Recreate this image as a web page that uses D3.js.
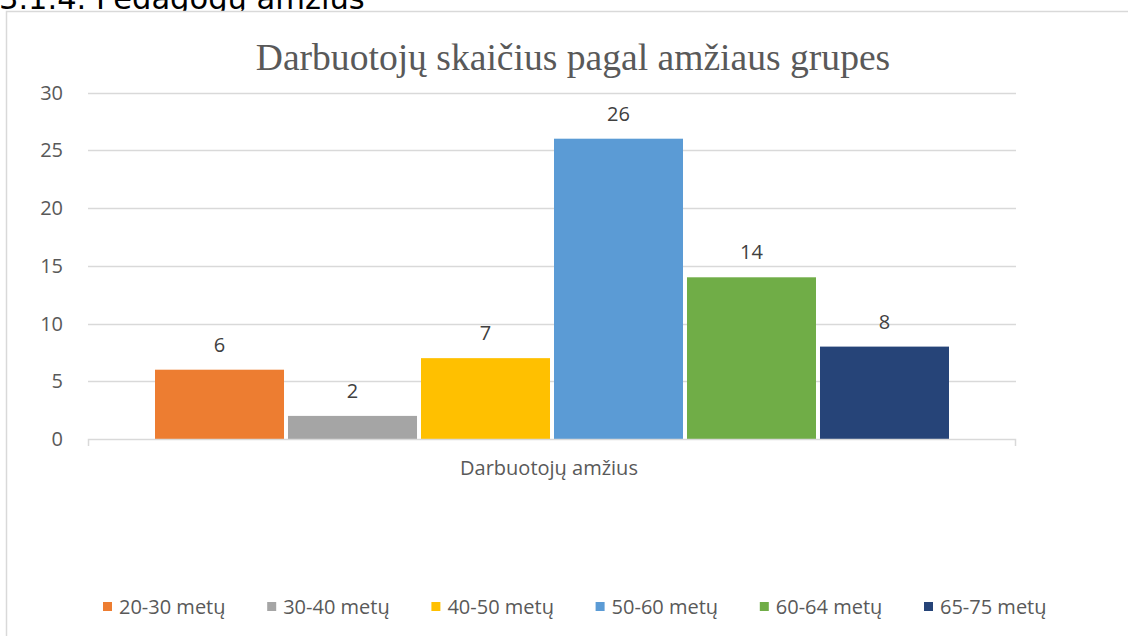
<!DOCTYPE html>
<html><head><meta charset="utf-8">
<script src="https://cdn.jsdelivr.net/npm/d3@7"></script>
<style>body{margin:0;background:#fff;overflow:hidden}</style>
</head><body>
<svg id="c" width="1128" height="636"></svg>
<script>
const categories = ["20-30 metų","30-40 metų","40-50 metų","50-60 metų","60-64 metų","65-75 metų"];
const values = [6,2,7,26,14,8];
const colors = ["#ED7D31","#A5A5A5","#FFC000","#5B9BD5","#70AD47","#264478"];
const yTicks = [0,5,10,15,20,25,30];
const title = "Darbuotojų skaičius pagal amžiaus grupes";
const axisTitle = "Darbuotojų amžius";
const heading = "3.1.4. Pedagogų amžius";

const svg = d3.select("#c");
const font = "'Open Sans', 'Noto Sans', sans-serif";

svg.append("text").attr("x",-1).attr("y",9).attr("font-family","'DejaVu Sans', Verdana, sans-serif")
  .attr("font-size",30.5).attr("fill","#000").text(heading);

// chart frame
svg.append("rect").attr("x",6.5).attr("y",11.5).attr("width",1130).attr("height",640)
  .attr("fill","#fff").attr("stroke","#d9d9d9").attr("stroke-width",1.5);

const L=88,R=1016,T=92.5,B=439;
const y = d3.scaleLinear().domain([0,30]).range([B,T]);
const x = d3.scaleBand().domain(categories).range([155,949]).paddingInner(0.03).paddingOuter(0);

svg.append("text").attr("x",573).attr("y",70).attr("text-anchor","middle")
  .attr("font-family","'Liberation Serif','Times New Roman',serif").attr("font-size",37.6)
  .attr("fill","#595959").text(title);

const g = svg.append("g");
g.selectAll("line.grid").data(yTicks.filter(d=>d>0)).join("line")
  .attr("x1",L).attr("x2",R).attr("y1",d=>Math.round(y(d))+0.5).attr("y2",d=>Math.round(y(d))+0.5)
  .attr("stroke","#d9d9d9").attr("stroke-width",1.5);

g.selectAll("text.yt").data(yTicks).join("text")
  .attr("x",63).attr("y",d=>y(d)+7).attr("text-anchor","end")
  .attr("font-family",font).attr("font-size",20).attr("fill","#595959").text(d=>d);

g.selectAll("rect.bar").data(values).join("rect")
  .attr("x",(d,i)=>x(categories[i])).attr("width",x.bandwidth())
  .attr("y",d=>y(d)).attr("height",d=>B-y(d)).attr("fill",(d,i)=>colors[i]);

g.selectAll("text.lbl").data(values).join("text")
  .attr("x",(d,i)=>x(categories[i])+x.bandwidth()/2).attr("y",d=>y(d)-18)
  .attr("text-anchor","middle").attr("font-family",font).attr("font-size",20)
  .attr("fill","#404040").text(d=>d);

// axis baseline
g.append("path").attr("d",`M${L+0.5},${B+7}V${B+0.5}H${R-0.5}V${B+7}`)
  .attr("fill","none").attr("stroke","#d9d9d9").attr("stroke-width",1.5);

svg.append("text").attr("x",549).attr("y",475).attr("text-anchor","middle")
  .attr("font-family",font).attr("font-size",20)
  .attr("fill","#595959").text(axisTitle);

// legend
const lg = svg.append("g");
const lx = d3.scalePoint().domain(categories).range([103,924]);
categories.forEach((c,i)=>{
  lg.append("rect").attr("x",lx(c)).attr("y",602).attr("width",9).attr("height",9).attr("fill",colors[i]);
  lg.append("text").attr("x",lx(c)+16).attr("y",614).attr("font-family",font)
    .attr("font-size",20).attr("fill","#595959").text(c);
});
</script>
</body></html>
